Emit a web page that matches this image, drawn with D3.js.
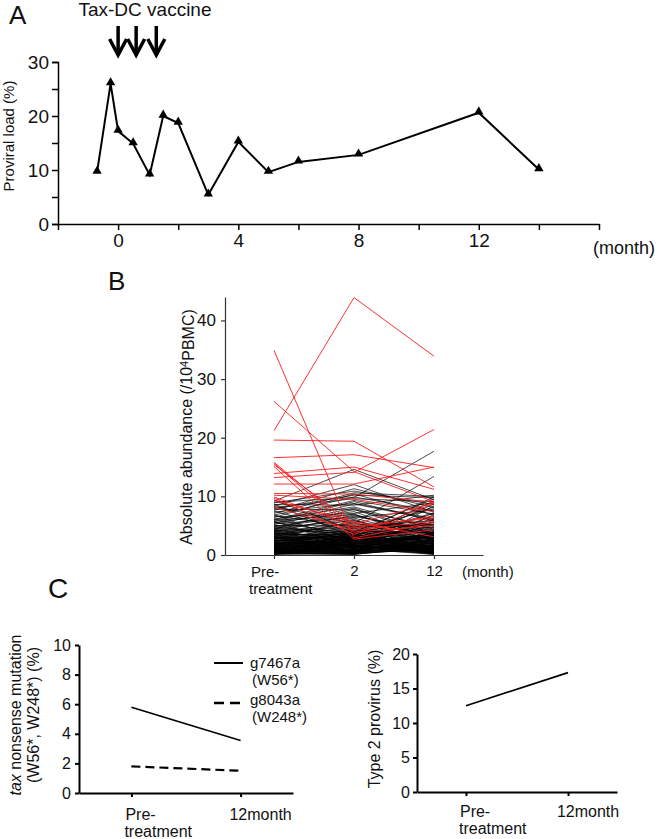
<!DOCTYPE html>
<html>
<head>
<meta charset="utf-8">
<script src="https://cdn.jsdelivr.net/npm/d3@7"></script>
<style>
  html, body { margin: 0; padding: 0; background: #fff; }
  svg { display: block; }
  text { font-family: "Liberation Sans", Arial, Helvetica, sans-serif; fill: #111; }
</style>
</head>
<body>
<div id="chart"></div>
<script>
// ---------------- Panel A: proviral load ----------------
const loadMonths = [-0.7, -0.25, 0, 0.5, 1.05, 1.5, 2, 3, 4, 5, 6, 8, 12, 14];
const loadValues = [9.6, 26.0, 17.2, 14.9, 9.1, 20.0, 18.7, 5.4, 15.2, 9.6, 11.5, 12.8, 20.6, 10.1];
const vaccineMonths = [0, 0.6, 1.27];
const aYTicks = [0, 5, 10, 15, 20, 25, 30];
const aYLabels = [0, 10, 20, 30];
const aXTicks = [-2, 0, 2, 4, 6, 8, 10, 12, 14, 16];
const aXLabels = [0, 4, 8, 12];

// ---------------- Panel B: clone abundance ----------------
const bCategories = ["Pre", "2", "12"];
const bYTicks = [0, 10, 20, 30, 40];
// red clones: [pre, 2 month, 12 month]
const redPre = [21.2, 34.9, 26.2, 19.6, 16.6, 15.8, 15.6, 15.4, 15.1, 13.9, 13.2, 12.1, 10.5, 10.2, 9.9, 9.7, 9.3, 8.2];
const red2   = [43.9, 2.9, 14.2, 19.4, 17.1, 4.6, 3.9, 5.3, 2.7, 15.0, 14.1, 12.1, 10.4, 9.5, 4.9, 3.5, 5.7, 4.2];
const red12  = [33.9, 5.6, 9.1, 11.6, 14.9, 6.6, 5.0, 8.9, 4.3, 11.2, 21.4, 15.0, 9.0, 7.4, 6.3, 8.8, 3.1, 5.8];
// black clones: [pre, 2 month, 12 month]
const blackPre = [9.4, 9.2, 9.0, 8.9, 8.7, 8.6, 8.4, 8.3, 8.1, 7.9,
                  7.8, 7.6, 7.5, 7.3, 7.1, 6.9, 6.8, 6.7, 6.5, 6.4,
                  6.2, 6.1, 6.0, 5.9, 5.8, 5.7, 5.6, 5.5, 5.4, 5.3,
                  5.2, 5.1, 5.0, 4.9, 4.8, 4.8, 4.7, 4.6, 4.5, 4.4,
                  4.4, 4.3, 4.2, 4.1, 4.0, 4.0, 3.9, 3.8, 3.7, 3.7,
                  3.6, 3.5, 3.4, 3.4, 3.3, 3.2, 3.1, 3.1, 3.0, 2.9,
                  2.9, 2.8, 2.7, 2.7, 2.6, 2.5, 2.5, 2.4, 2.3, 2.3,
                  2.2, 2.2, 2.1, 2.0, 2.0, 1.9, 1.9, 1.8, 1.8, 1.7,
                  1.7, 1.6, 1.6, 1.5, 1.5, 1.4, 1.4, 1.3, 1.3, 1.2,
                  1.2, 1.1, 1.1, 1.0, 1.0, 0.9, 0.9, 0.9, 0.8, 0.8,
                  0.7, 0.7, 0.7, 0.6, 0.6, 0.6, 0.5, 0.5, 0.5, 0.4,
                  0.4, 0.4, 0.3, 0.3, 0.3, 0.3, 0.2, 0.2, 0.2, 0.1,
                  3.9, 3.5, 3.2, 2.8, 2.6, 2.4, 2.1, 1.9, 1.7, 1.5,
                  1.3, 1.1, 0.9, 0.8, 0.6, 0.5, 0.4, 0.3, 0.2, 0.1,
                  4.2, 3.6, 3.0, 2.2, 1.6, 1.0, 0.7, 0.4, 0.2, 0.1];
const black2   = [4.1, 14.6, 9.8, 10.9, 3.0, 8.5, 12.0, 5.4, 9.6, 10.2,
                  7.7, 11.3, 3.9, 8.8, 10.6, 1.8, 9.9, 4.8, 7.1, 10.4,
                  2.9, 8.2, 9.3, 6.9, 1.2, 9.1, 3.5, 7.4, 8.7, 6.4,
                  8.0, 2.6, 5.1, 7.0, 3.3, 6.6, 0.9, 5.9, 4.0, 7.8,
                  2.0, 6.3, 3.7, 5.3, 1.5, 4.7, 6.8, 2.8, 5.0, 3.1,
                  4.5, 1.1, 6.1, 3.6, 2.4, 5.5, 0.6, 4.2, 3.0, 5.8,
                  1.9, 3.8, 2.7, 4.9, 0.8, 3.4, 2.1, 4.3, 1.4, 3.2,
                  2.5, 4.6, 0.5, 3.9, 1.7, 2.9, 3.6, 0.9, 2.3, 4.1,
                  1.3, 3.0, 2.2, 0.4, 2.6, 1.6, 3.3, 0.7, 1.9, 2.8,
                  0.3, 2.4, 1.2, 3.1, 0.6, 1.8, 2.0, 0.2, 1.4, 2.7,
                  1.0, 0.5, 2.2, 1.5, 0.3, 1.7, 0.8, 2.5, 0.1, 1.1,
                  0.7, 1.9, 0.2, 1.3, 0.4, 2.1, 0.9, 0.1, 1.6, 0.5,
                  1.2, 3.4, 0.6, 2.9, 1.8, 3.7, 0.4, 2.6, 3.1, 0.9,
                  2.2, 3.5, 1.6, 0.3, 2.8, 1.1, 3.9, 0.7, 2.4, 1.5,
                  2.0, 0.5, 3.2, 1.4, 2.7, 0.8, 3.0, 1.9, 0.2, 2.5];
const black12  = [7.9, 9.4, 17.7, 8.6, 5.6, 10.2, 7.3, 13.4, 9.1, 9.8,
                  4.9, 8.1, 9.6, 6.2, 10.0, 3.8, 7.5, 5.2, 8.9, 6.8,
                  9.2, 4.4, 7.0, 3.1, 8.4, 5.8, 9.9, 2.6, 6.0, 7.7,
                  3.6, 8.7, 5.0, 2.3, 7.2, 4.1, 6.4, 1.8, 5.5, 3.3,
                  6.7, 2.9, 8.2, 4.6, 1.4, 5.9, 3.7, 7.1, 2.1, 4.8,
                  3.0, 6.1, 1.1, 5.3, 4.0, 2.5, 6.9, 1.7, 4.4, 3.5,
                  5.7, 2.2, 4.2, 0.9, 3.9, 1.5, 5.1, 2.8, 3.2, 0.6,
                  4.7, 1.9, 3.4, 2.7, 0.4, 4.3, 1.2, 3.0, 2.0, 3.8,
                  0.8, 2.4, 3.6, 1.6, 2.9, 0.5, 1.0, 2.6, 3.1, 1.3,
                  2.2, 0.3, 1.8, 2.5, 1.4, 0.7, 3.3, 1.1, 0.2, 2.0,
                  1.5, 2.7, 0.6, 1.9, 1.0, 0.4, 2.3, 0.8, 1.7, 0.1,
                  1.2, 0.2, 2.1, 0.5, 1.6, 0.9, 0.3, 1.4, 0.1, 0.7,
                  3.3, 0.8, 2.7, 1.4, 3.6, 0.5, 2.9, 1.0, 4.1, 2.3,
                  0.7, 1.8, 3.4, 2.6, 0.3, 3.9, 1.2, 2.0, 0.6, 3.1,
                  1.6, 2.8, 0.4, 3.7, 1.1, 2.5, 0.9, 3.2, 1.5, 0.2];

// ---------------- Panel C ----------------
const cCategories = ["Pre", "12month"];
const mutW56 = [5.8, 3.55];
const mutW248 = [1.8, 1.5];
const type2 = [12.5, 17.3];
const cLeftTicks = [0, 2, 4, 6, 8, 10];
const cRightTicks = [0, 5, 10, 15, 20];

const W = 659, H = 839;
const svg = d3.select("#chart").append("svg").attr("width", W).attr("height", H);

function styleAxis(g, color, width, fs) {
  g.select(".domain").attr("stroke", color).attr("stroke-width", width);
  g.selectAll(".tick line").attr("stroke", color).attr("stroke-width", width);
  g.selectAll(".tick text").attr("fill", "#111").style("font-size", fs + "px")
    .style("font-family", '"Liberation Sans", Arial, sans-serif');
}

// ===== Panel A =====
{
  const x = d3.scaleLinear().domain([-2, 16]).range([58, 599]);
  const y = d3.scaleLinear().domain([0, 30]).range([224, 62]);

  svg.append("text").attr("x", 9).attr("y", 24).style("font-size", "26px").text("A");
  svg.append("text").attr("x", 145).attr("y", 16).attr("text-anchor", "middle")
    .style("font-size", "19px").text("Tax-DC vaccine");

  const arrows = svg.append("g");
  vaccineMonths.forEach(m => {
    const cx = x(m);
    arrows.append("line").attr("x1", cx).attr("x2", cx).attr("y1", 26).attr("y2", 53)
      .attr("stroke", "#000").attr("stroke-width", 3.5);
    arrows.append("path").attr("d", `M${cx - 8.5},39 L${cx},55 L${cx + 8.5},39`)
      .attr("fill", "none").attr("stroke", "#000").attr("stroke-width", 3.5)
      .attr("stroke-linejoin", "miter");
  });

  const gy = svg.append("g").attr("transform", "translate(58,0)")
    .call(d3.axisLeft(y).tickValues(aYTicks).tickSize(6)
      .tickFormat(d => aYLabels.includes(d) ? d : ""));
  styleAxis(gy, "#000", 1.5, 19);
  gy.selectAll(".tick text").attr("x", -9);

  const gx = svg.append("g").attr("transform", "translate(0,224)")
    .call(d3.axisBottom(x).tickValues(aXTicks).tickSize(6).tickSizeOuter(0)
      .tickFormat(d => aXLabels.includes(d) ? d : ""));
  styleAxis(gx, "#000", 1.5, 19);
  gx.selectAll(".tick text").attr("y", 10);

  svg.append("text").attr("x", 593).attr("y", 254).style("font-size", "18px").text("(month)");
  svg.append("text").attr("transform", "translate(14,136) rotate(-90)")
    .attr("text-anchor", "middle").style("font-size", "15px").text("Proviral load (%)");

  const pts = loadMonths.map((m, i) => [m, loadValues[i]]);
  svg.append("path").datum(pts)
    .attr("d", d3.line().x(d => x(d[0])).y(d => y(d[1])))
    .attr("fill", "none").attr("stroke", "#000").attr("stroke-width", 2);
  svg.append("g").selectAll("path").data(pts).join("path")
    .attr("transform", d => `translate(${x(d[0])},${y(d[1]) - 1})`)
    .attr("d", d3.symbol(d3.symbolTriangle, 38))
    .attr("fill", "#000");
}

// ===== Panel B =====
{
  const x = d3.scalePoint().domain(bCategories).range([225, 483]).padding(0.6125);
  const y = d3.scaleLinear().domain([0, 44]).range([555, 297]);

  svg.append("text").attr("x", 108).attr("y", 290).style("font-size", "26px").text("B");

  const line = d3.line().x((d, i) => x(bCategories[i])).y(d => y(d));
  const gl = svg.append("g");
  blackPre.forEach((v, i) => {
    gl.append("path").datum([v, black2[i], black12[i]]).attr("d", line)
      .attr("fill", "none").attr("stroke", "#000").attr("stroke-width", 0.7);
  });
  redPre.forEach((v, i) => {
    gl.append("path").datum([v, red2[i], red12[i]]).attr("d", line)
      .attr("fill", "none").attr("stroke", "#ff1a1a").attr("stroke-width", 0.9);
  });

  const gy = svg.append("g").attr("transform", "translate(225,0)")
    .call(d3.axisLeft(y).tickValues(bYTicks).tickSize(4).tickSizeOuter(0));
  styleAxis(gy, "#333", 1.2, 17);
  gy.selectAll(".tick text").attr("x", -9);

  const gx = svg.append("g").attr("transform", "translate(0,555)")
    .call(d3.axisBottom(x).tickSize(4).tickSizeOuter(0).tickFormat(d => d === "Pre" ? "" : d));
  styleAxis(gx, "#333", 1.2, 15);
  gx.selectAll(".tick text").attr("y", 10);

  svg.append("text").attr("x", 251).attr("y", 577).style("font-size", "15px").text("Pre-");
  svg.append("text").attr("x", 249).attr("y", 594).style("font-size", "15px").text("treatment");
  svg.append("text").attr("x", 462).attr("y", 577).style("font-size", "15px").text("(month)");

  const t = svg.append("text").attr("transform", "translate(192,427) rotate(-90)")
    .attr("text-anchor", "middle").style("font-size", "16px");
  t.append("tspan").text("Absolute abundance (/10");
  t.append("tspan").attr("dy", "-0.4em").style("font-size", "11px").text("4");
  t.append("tspan").attr("dy", "0.4em").text("PBMC)");
}

// ===== Panel C =====
svg.append("text").attr("x", 48).attr("y", 598).style("font-size", "28px").text("C");

function xLabels(x, axisY, cats) {
  svg.append("text").attr("x", x(cats[0]) - 6).attr("y", axisY + 27).style("font-size", "16px").text("Pre-");
  svg.append("text").attr("x", x(cats[0]) - 7).attr("y", axisY + 44).style("font-size", "16px").text("treatment");
  svg.append("text").attr("x", x(cats[1]) + 20).attr("y", axisY + 27).attr("text-anchor", "middle")
    .style("font-size", "16px").text("12month");
}

{
  const x = d3.scalePoint().domain(cCategories).range([79, 293]).padding(0.48);
  const y = d3.scaleLinear().domain([0, 10]).range([793, 645]);

  const gy = svg.append("g").attr("transform", "translate(79,0)")
    .call(d3.axisLeft(y).tickValues(cLeftTicks).tickSize(4).tickSizeOuter(0));
  styleAxis(gy, "#000", 2, 16);
  gy.selectAll(".tick text").attr("x", -8);
  const gx = svg.append("g").attr("transform", "translate(0,793)")
    .call(d3.axisBottom(x).tickSize(4).tickSizeOuter(0).tickFormat(""));
  styleAxis(gx, "#000", 2, 16);
  xLabels(x, 793, cCategories);

  const line = d3.line().x((d, i) => x(cCategories[i])).y(d => y(d));
  svg.append("path").datum(mutW56).attr("d", line)
    .attr("fill", "none").attr("stroke", "#000").attr("stroke-width", 1.6);
  svg.append("path").datum(mutW248).attr("d", line)
    .attr("fill", "none").attr("stroke", "#000").attr("stroke-width", 2.2)
    .attr("stroke-dasharray", "9,5");

  // legend
  svg.append("line").attr("x1", 214).attr("x2", 243).attr("y1", 663).attr("y2", 663)
    .attr("stroke", "#000").attr("stroke-width", 2);
  svg.append("text").attr("x", 250).attr("y", 668).style("font-size", "15px").text("g7467a");
  svg.append("text").attr("x", 252).attr("y", 685).style("font-size", "15px").text("(W56*)");
  svg.append("line").attr("x1", 214).attr("x2", 243).attr("y1", 703).attr("y2", 703)
    .attr("stroke", "#000").attr("stroke-width", 2.5).attr("stroke-dasharray", "10,6");
  svg.append("text").attr("x", 250).attr("y", 705).style("font-size", "15px").text("g8043a");
  svg.append("text").attr("x", 252).attr("y", 722).style("font-size", "15px").text("(W248*)");

  const t1 = svg.append("text").attr("transform", "translate(21,715) rotate(-90)")
    .attr("text-anchor", "middle").style("font-size", "16px");
  t1.append("tspan").style("font-style", "italic").text("tax");
  t1.append("tspan").text(" nonsense mutation");
  svg.append("text").attr("transform", "translate(39,715) rotate(-90)")
    .attr("text-anchor", "middle").style("font-size", "16px").text("(W56*, W248*) (%)");
}

{
  const x = d3.scalePoint().domain(cCategories).range([417, 617]).padding(0.48);
  const y = d3.scaleLinear().domain([0, 20]).range([792, 654]);

  const gy = svg.append("g").attr("transform", "translate(417,0)")
    .call(d3.axisLeft(y).tickValues(cRightTicks).tickSize(4).tickSizeOuter(0));
  styleAxis(gy, "#000", 2, 16);
  gy.selectAll(".tick text").attr("x", -7);
  const gx = svg.append("g").attr("transform", "translate(0,792)")
    .call(d3.axisBottom(x).tickSize(4).tickSizeOuter(0).tickFormat(""));
  styleAxis(gx, "#000", 2, 16);
  xLabels(x, 790, cCategories);

  const line = d3.line().x((d, i) => x(cCategories[i])).y(d => y(d));
  svg.append("path").datum(type2).attr("d", line)
    .attr("fill", "none").attr("stroke", "#000").attr("stroke-width", 1.6);

  svg.append("text").attr("transform", "translate(380,719) rotate(-90)")
    .attr("text-anchor", "middle").style("font-size", "16px").text("Type 2 provirus (%)");
}
</script>
</body>
</html>
